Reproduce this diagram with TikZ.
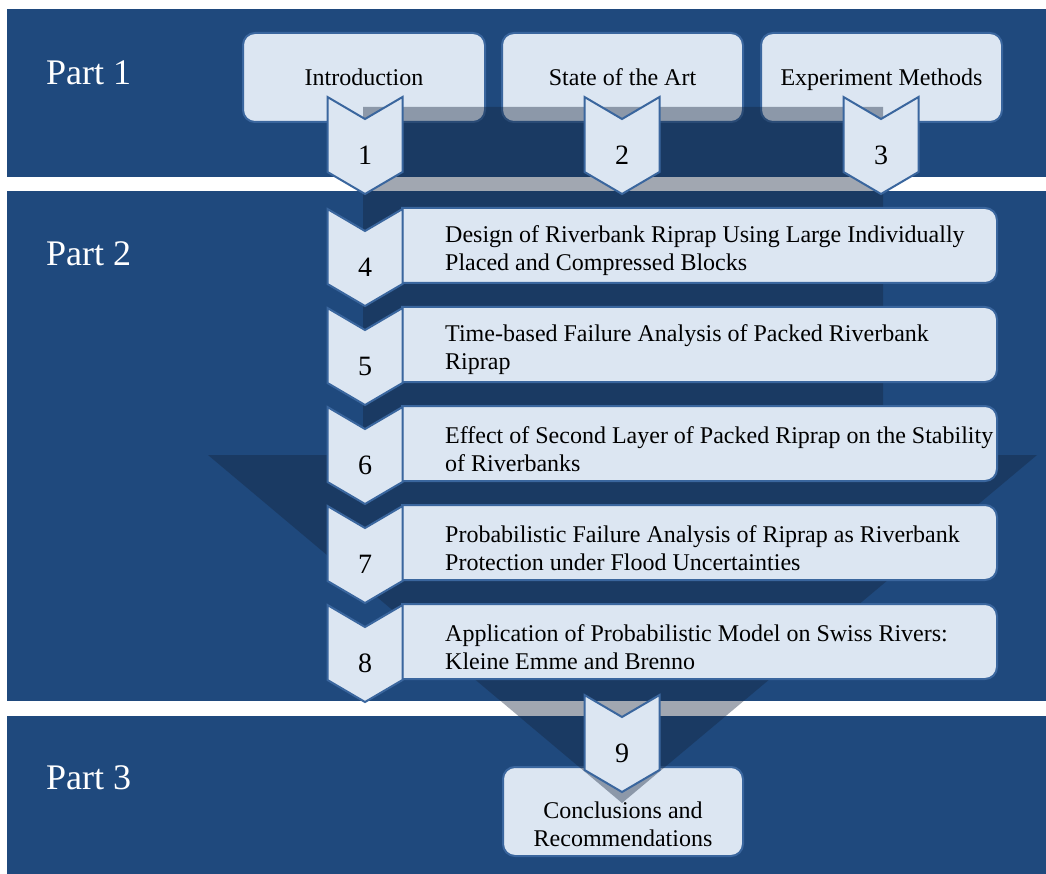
\documentclass[tikz,border=0pt]{standalone}
\usepackage{fontspec}
\setmainfont{Liberation Serif}
\definecolor{bandblue}{RGB}{31,73,125}
\definecolor{boxfill}{RGB}{220,230,242}
\definecolor{boxline}{RGB}{58,102,158}
\definecolor{shadecol}{RGB}{20,36,60}
\tikzset{
 band/.style={fill=bandblue, draw=none},
 topbox/.style={draw=boxline, line width=2pt, fill=boxfill, rounded corners=12pt, inner sep=0pt},
 chevbox/.style={draw=boxline, line width=2pt, fill=boxfill, line join=miter},
 numtext/.style={font=\fontsize{28}{30}\selectfont, inner sep=0pt},
 boxtext/.style={font=\fontsize{24}{28}\selectfont, align=center, inner sep=0pt},
 parttext/.style={font=\fontsize{36}{40}\selectfont, text=white, inner sep=0pt, anchor=west},
 shadearrow/.style={fill=shadecol, fill opacity=0.4, draw=none},
}
\newcommand\chevron[4]{%
 \draw[chevbox] (#2-37.5,#3) -- (#2,#3+22) -- (#2+37.5,#3) -- (#2+37.5,#3+75) -- (#2,#3+97) -- (#2-37.5,#3+75) -- cycle;
 \node[numtext] (#1) at (#2,#3+58) {#4};
}
\newcommand\stepbar[3]{%
 \draw[chevbox] (402,#2) -- (985,#2) arc[start angle=-90,end angle=0,radius=12] -- (997,#2+63) arc[start angle=0,end angle=90,radius=12] -- (402,#2+75) -- cycle;
 \node[boxtext, align=left, anchor=west] (#1) at (445,#2+43) {#3};
}
\begin{document}
\begin{tikzpicture}[x=1pt,y=-1pt]
\useasboundingbox (0,0) rectangle (1046,874);
\fill[white] (0,0) rectangle (1046,874);
% bands
\fill[band] (7,9) rectangle (1046,177);
\fill[band] (7,191) rectangle (1046,701);
\fill[band] (7,716) rectangle (1046,874);
\node[parttext] (p1) at (46,73) {Part 1};
\node[parttext] (p2) at (46,254) {Part 2};
\node[parttext] (p3) at (46,778) {Part 3};
% top boxes
\node[topbox, minimum width=242pt, minimum height=89pt] (intro) at (364,77.5) {};
\node[topbox, minimum width=241pt, minimum height=89pt] (state) at (622.5,77.5) {};
\node[topbox, minimum width=241pt, minimum height=89pt] (exp) at (881.5,77.5) {};
\node[boxtext, anchor=base] (introtext) at (364,86) {Introduction};
\node[boxtext, anchor=base] (statetext) at (622.5,86) {State of the Art};
\node[boxtext, anchor=base] (exptext) at (881.5,86) {Experiment Methods};
% conclusions box
\node[topbox, minimum width=240pt, minimum height=89pt] (concl) at (623,811.5) {};
\node[boxtext] (concltext) at (623,824) {Conclusions and\\Recommendations};
% shaded big arrow
\fill[shadearrow] (363,107) -- (883,107) -- (883,455) -- (1037,455) -- (622,803) -- (208,455) -- (363,455) -- cycle;
% part 2 boxes
\stepbar{b4}{208}{Design of Riverbank Riprap Using Large Individually\\Placed and Compressed Blocks}
\stepbar{b5}{307}{Time-based Failure Analysis of Packed Riverbank\\Riprap}
\stepbar{b6}{406}{Effect of Second Layer of Packed Riprap on the Stability\\of Riverbanks}
\stepbar{b7}{505}{Probabilistic Failure Analysis of Riprap as Riverbank\\Protection under Flood Uncertainties}
\stepbar{b8}{604}{Application of Probabilistic Model on Swiss Rivers:\\Kleine Emme and Brenno}
% chevrons
\chevron{c1}{365}{97}{1}
\chevron{c2}{622}{97}{2}
\chevron{c3}{881}{97}{3}
\chevron{c4}{365}{209}{4}
\chevron{c5}{365}{308}{5}
\chevron{c6}{365}{407}{6}
\chevron{c7}{365}{506}{7}
\chevron{c8}{365}{605}{8}
\chevron{c9}{622}{695}{9}
\end{tikzpicture}
\end{document}
